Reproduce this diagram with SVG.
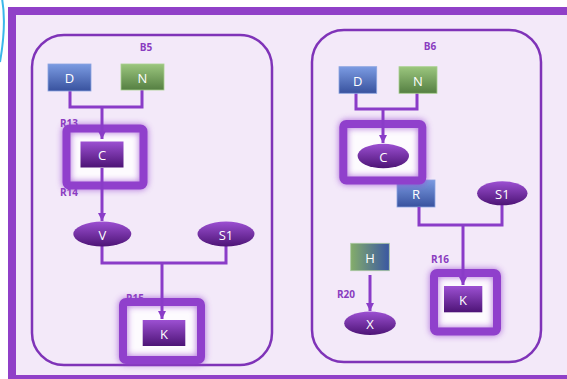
<svg xmlns="http://www.w3.org/2000/svg" width="567" height="379" viewBox="0 0 567 379">
<defs>
<style>
.frame{fill:#f3e9f9;stroke:#9040c8;stroke-width:8}
.group{fill:none;stroke:#7f33b8;stroke-width:2.5}
.grp-label{font-family:"Open Sans","Liberation Sans",sans-serif;font-size:10px;font-weight:bold;fill:#8a3cc0;text-anchor:middle}
.rlabel{font-family:"Open Sans","Liberation Sans",sans-serif;font-size:10px;font-weight:bold;fill:#8a3cc0}
.ntext{font-family:"Open Sans","Liberation Sans",sans-serif;font-size:13px;fill:#ffffff;text-anchor:middle;dominant-baseline:central}
.conn{fill:none;stroke:#8a3cc8;stroke-width:3}
.hl-glow{fill:none;stroke:#9a4ad0;stroke-width:9;opacity:0.7;filter:url(#blur)}
.hl-fill{fill:#fdfbfe}
.hl{fill:none;stroke:#9040cc;stroke-width:8}
.blue{fill:url(#gBlue);stroke:#8aa4e0;stroke-width:0.8}
.green{fill:url(#gGreen);stroke:#a8d090;stroke-width:0.8}
.purple{fill:url(#gPurple)}
</style>
<linearGradient id="gBlue" x1="0" y1="0" x2="0" y2="1"><stop offset="0" stop-color="#7b9be2"/><stop offset="1" stop-color="#38529e"/></linearGradient>
<linearGradient id="gGreen" x1="0" y1="0" x2="0" y2="1"><stop offset="0" stop-color="#9bc67e"/><stop offset="1" stop-color="#557f42"/></linearGradient>
<linearGradient id="gPurple" x1="0" y1="0" x2="0" y2="1"><stop offset="0" stop-color="#9c50d2"/><stop offset="1" stop-color="#4d1476"/></linearGradient>
<linearGradient id="gH" x1="0" y1="0" x2="1" y2="0"><stop offset="0" stop-color="#84ad6a"/><stop offset="1" stop-color="#3a57a2"/></linearGradient>
<filter id="blur" x="-30%" y="-30%" width="160%" height="160%"><feGaussianBlur stdDeviation="3"/></filter>
<marker id="arrow" markerUnits="userSpaceOnUse" markerWidth="10" markerHeight="10" refX="8" refY="4" orient="auto"><path d="M0,0 L8,4 L0,8 Z" fill="#8a3cc8"/></marker>
</defs>

<path d="M1.5,-4 Q7,22 0,62" fill="none" stroke="#3ab8ea" stroke-width="2"/>
<rect class="frame" x="12" y="11" width="570" height="368"/>

<g id="B5">
<rect class="group" x="32" y="35" width="240" height="330" rx="32"/>
<text class="grp-label" x="146" y="51">B5</text>
</g>
<g id="B6">
<rect class="group" x="312" y="30" width="229" height="332" rx="32"/>
<text class="grp-label" x="430" y="50">B6</text>
</g>

<g id="labels">
<text class="rlabel" x="60" y="127">R13</text>
<text class="rlabel" x="60" y="196">R14</text>
<text class="rlabel" x="126" y="302">R15</text>
<text class="rlabel" x="347" y="131">R13</text>
<text class="rlabel" x="431" y="263">R16</text>
<text class="rlabel" x="337" y="298">R20</text>
</g>

<g id="B6-R">
<rect class="blue" x="397" y="180" width="38" height="27"/>
<text class="ntext" x="416" y="194">R</text>
</g>

<g id="highlight-B5-C">
<rect class="hl-fill" x="70" y="132" width="70" height="50"/>
<rect class="hl-glow" x="66.5" y="128.5" width="77" height="57" rx="3"/>
<rect class="hl" x="66.5" y="128.5" width="77" height="57" rx="3"/>
</g>
<g id="highlight-B5-K">
<rect class="hl-fill" x="127" y="306" width="70" height="50"/>
<rect class="hl-glow" x="123" y="302" width="78" height="58" rx="3"/>
<rect class="hl" x="123" y="302" width="78" height="58" rx="3"/>
</g>
<g id="highlight-B6-C">
<rect class="hl-fill" x="347" y="128" width="71" height="49"/>
<rect class="hl-glow" x="343.3" y="124" width="79" height="56.5" rx="3"/>
<rect class="hl" x="343.3" y="124" width="79" height="56.5" rx="3"/>
</g>
<g id="highlight-B6-K">
<rect class="hl-fill" x="438" y="277" width="55" height="50"/>
<rect class="hl-glow" x="434" y="273" width="63" height="58.5" rx="3"/>
<rect class="hl" x="434" y="273" width="63" height="58.5" rx="3"/>
</g>

<g id="connectors">
<path class="conn" d="M70,91 V107 H142 V90"/>
<path class="conn" d="M102,107 V139" marker-end="url(#arrow)"/>
<path class="conn" d="M102,168 V221" marker-end="url(#arrow)"/>
<path class="conn" d="M102,246 V263 H226 V246"/>
<path class="conn" d="M162,263 V319" marker-end="url(#arrow)"/>
<path class="conn" d="M356,93 V109 H417 V93"/>
<path class="conn" d="M383,109 V143" marker-end="url(#arrow)"/>
<path class="conn" d="M419,207 V225 H502 V205"/>
<path class="conn" d="M463,225 V285" marker-end="url(#arrow)"/>
<path class="conn" d="M370,275 V311" marker-end="url(#arrow)"/>
</g>

<g id="B5-D"><rect class="blue" x="48" y="64" width="43" height="27"/><text class="ntext" x="69.5" y="78">D</text></g>
<g id="B5-N"><rect class="green" x="121" y="64" width="43" height="26"/><text class="ntext" x="142.5" y="77.5">N</text></g>
<g id="B5-C"><rect class="purple" x="80.5" y="141.5" width="43" height="26"/><text class="ntext" x="102" y="155">C</text></g>
<g id="B5-V"><ellipse class="purple" cx="102.3" cy="234" rx="29" ry="12.5"/><text class="ntext" x="102.3" y="235">V</text></g>
<g id="B5-S1"><ellipse class="purple" cx="226" cy="234" rx="28.5" ry="12.5"/><text class="ntext" x="226" y="235">S1</text></g>
<g id="B5-K"><rect class="purple" x="142.7" y="320" width="42.6" height="26"/><text class="ntext" x="164" y="333.5">K</text></g>

<g id="B6-D"><rect class="blue" x="339" y="66.7" width="37.7" height="26.6"/><text class="ntext" x="357.8" y="80.5">D</text></g>
<g id="B6-N"><rect class="green" x="399" y="66.7" width="38" height="26.6"/><text class="ntext" x="418" y="80.5">N</text></g>
<g id="B6-C"><ellipse class="purple" cx="383.3" cy="156" rx="25.7" ry="12.2"/><text class="ntext" x="383.3" y="157">C</text></g>
<g id="B6-S1"><ellipse class="purple" cx="502.3" cy="193.3" rx="25.2" ry="12"/><text class="ntext" x="502.3" y="194">S1</text></g>
<g id="B6-K"><rect class="purple" x="444" y="286" width="38.3" height="26.3"/><text class="ntext" x="463" y="299.5">K</text></g>
<g id="B6-H"><rect x="350.7" y="243.3" width="38.6" height="27.4" fill="url(#gH)" stroke="#a8c8a0" stroke-width="0.8"/><text class="ntext" x="370" y="257.5">H</text></g>
<g id="B6-X"><ellipse class="purple" cx="370" cy="323.3" rx="25.8" ry="11.7"/><text class="ntext" x="370" y="324">X</text></g>
</svg>
